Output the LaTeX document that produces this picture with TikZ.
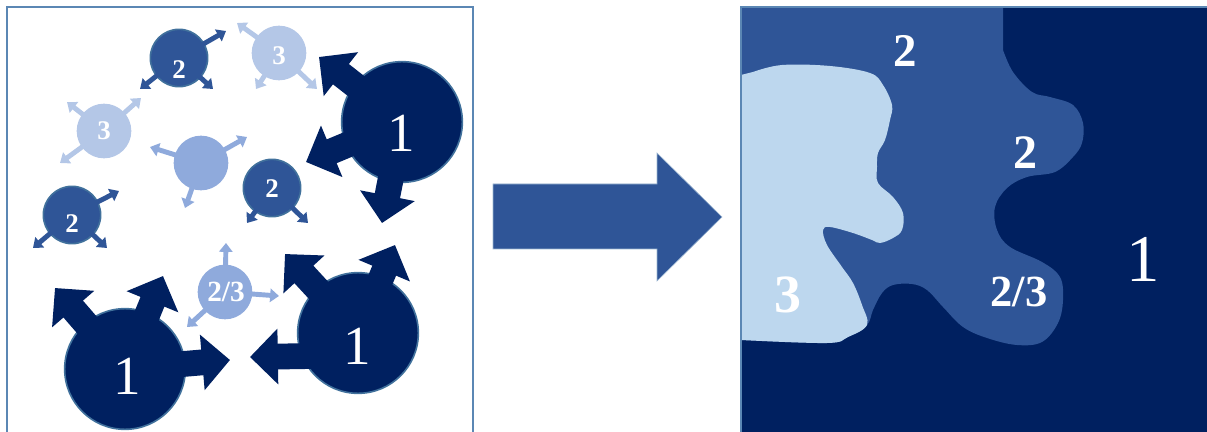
\documentclass[tikz,border=0pt]{standalone}
\usepackage{fontspec}
\setmainfont{Liberation Serif}
\usetikzlibrary{arrows.meta,positioning}
\definecolor{navy}{HTML}{002060}
\definecolor{midblue}{HTML}{2F5597}
\definecolor{paleblue}{HTML}{B4C7E7}
\definecolor{softblue}{HTML}{8FAADC}
\definecolor{iceblue}{HTML}{BDD7EE}
\definecolor{edge}{HTML}{41719C}
\definecolor{frame}{HTML}{5B87B4}
\tikzset{
  grain/.style={circle,inner sep=0pt,line width=1.4pt},
  big/.style={grain,minimum size=3.62cm,fill=navy,draw=edge},
  med/.style={grain,minimum size=1.72cm,fill=midblue,draw=edge},
  sml/.style={grain,minimum size=1.64cm,fill=#1},
  bigarr/.style={navy,line width=22pt,-{Triangle[length=0pt 1.08,width=0pt 2.1]}},
  spoke/.style={#1,line width=4.2pt,-{Triangle[length=0pt 1.8,width=0pt 2.7]}},
  lab/.style={text=white,inner sep=0pt,font=\bfseries\fontsize{#1}{#1}\selectfont},
  one/.style={text=white,inner sep=0pt,font=\fontsize{#1}{#1}\selectfont}
}

\begin{document}
\begin{tikzpicture}[x=0.03cm,y=-0.03cm]
\useasboundingbox (0,0) rectangle (1207,432);
\clip (0,0) rectangle (1207,432);
% left panel: grains growing
\draw[frame,line width=1.7pt] (7,445) -- (7,7) -- (473,7) -- (473,445);
\draw(179,58) node[med] (c2a) {};
\draw(279,53) node[sml=paleblue] (c3a) {};
\draw(402,122) node[big] (c1a) {};
\draw(104,131) node[sml=paleblue] (c3b) {};
\draw(201,163) node[sml=softblue] (c0) {};
\draw(272,188) node[med] (c2b) {};
\draw(72,215) node[med] (c2c) {};
\draw(225,292) node[sml=softblue] (c23) {};
\draw(125,369) node[big] (c1b) {};
\draw(358,333) node[big] (c1c) {};
% arrow tips
\coordinate (a1) at (226,31);  \coordinate (a2) at (140,89);  \coordinate (a3) at (213,89);
\coordinate (b1) at (237,23);  \coordinate (b2) at (256,89);  \coordinate (b3) at (317,89);
\coordinate (d1) at (319,57);  \coordinate (d2) at (306,162); \coordinate (d3) at (382,223);
\coordinate (e1) at (67,102);  \coordinate (e2) at (141,98);  \coordinate (e3) at (60,163);
\coordinate (f1) at (150,147); \coordinate (f2) at (247,137); \coordinate (f3) at (185,208);
\coordinate (g1) at (247,223); \coordinate (g2) at (308,223);
\coordinate (h1) at (119,191); \coordinate (h2) at (33,248);  \coordinate (h3) at (107,248);
\coordinate (k1) at (226,243); \coordinate (k2) at (279,296); \coordinate (k3) at (187,327);
\coordinate (m1) at (55,288);  \coordinate (m2) at (163,276); \coordinate (m3) at (230,360);
\coordinate (n1) at (285,254); \coordinate (n2) at (395,245); \coordinate (n3) at (250,357);
\foreach \t in {a1,a2,a3} \draw[spoke=midblue] (c2a.center) -- (\t);
\foreach \t in {b1,b2,b3} \draw[spoke=paleblue] (c3a.center) -- (\t);
\foreach \t in {d1,d2,d3} \draw[bigarr] (c1a.center) -- (\t);
\foreach \t in {e1,e2,e3} \draw[spoke=paleblue] (c3b.center) -- (\t);
\foreach \t in {f1,f2,f3} \draw[spoke=softblue] (c0.center) -- (\t);
\foreach \t in {g1,g2} \draw[spoke=midblue] (c2b.center) -- (\t);
\foreach \t in {h1,h2,h3} \draw[spoke=midblue] (c2c.center) -- (\t);
\foreach \t in {k1,k2,k3} \draw[spoke=softblue] (c23.center) -- (\t);
\foreach \t in {m1,m2,m3} \draw[bigarr] (c1b.center) -- (\t);
\foreach \t in {n1,n2} \draw[bigarr] (c1c.center) -- (\t);
\draw[bigarr] ([yshift=-19pt]c1c.center) -- (n3);
% grain labels
\node[lab=23] (l2a) at (179,70) {2};
\node[lab=23] (l3a) at (279,56) {3};
\node[one=47] (l1a) at (401,133) {1};
\node[lab=23] (l3b) at (104,131) {3};
\node[lab=23] (l2b) at (272,189) {2};
\node[lab=23] (l2c) at (72,224) {2};
\node[lab=25] (l23) at (226,292) {2/3};
\node[one=47] (l1b) at (127,376) {1};
\node[one=47] (l1c) at (357,346) {1};
% big arrow
\filldraw[fill=midblue,draw=frame!60,line width=0.5pt] (493,184) -- (657,184) -- (657,153)
  -- (722,217) -- (657,281) -- (657,249) -- (493,249) -- cycle;
% right panel: final phase map
\fill[navy] (741,7) rectangle (1210,440);
\fill[midblue] (741,7) -- (1003,7) -- plot[smooth,tension=0.6] coordinates {(1003,50) (1013,72)
  (1032,92) (1050,97) (1073,105) (1083,123) (1082,143) (1073,157) (1055,172) (1027,177)
  (1007,188) (995,207) (997,230) (1010,247) (1042,262) (1060,277) (1063,300) (1058,323)
  (1042,342) (1017,345) (987,338) (963,327) (943,307) (927,290) (912,284) (893,285)
  (882,293) (873,310) (867,325) (848,337) (827,343) (741,340)} -- cycle;
\fill[iceblue] (741,75) -- plot[smooth,tension=0.6] coordinates {(753,72) (782,65) (830,66)
  (870,73) (883,85) (892,105) (890,120) (885,140) (878,153) (877,167) (878,183) (893,197)
  (903,213) (902,230) (893,238) (880,243) (872,240) (853,233) (830,227) (823,230)
  (827,245) (842,267) (853,283) (862,305) (867,325) (848,337) (827,343) (741,340)} -- cycle;
\draw[frame,line width=1pt] (1210,7) -- (741,7) -- (741,440);
\node[lab=40] (r2a) at (905,51) {2};
\node[lab=41] (r2b) at (1025,153) {2};
\node[one=57] (r1) at (1143,259) {1};
\node[lab=46] (r3) at (788,295) {3};
\node[lab=38] (r23) at (1019,292) {2/3};
\end{tikzpicture}
\end{document}
